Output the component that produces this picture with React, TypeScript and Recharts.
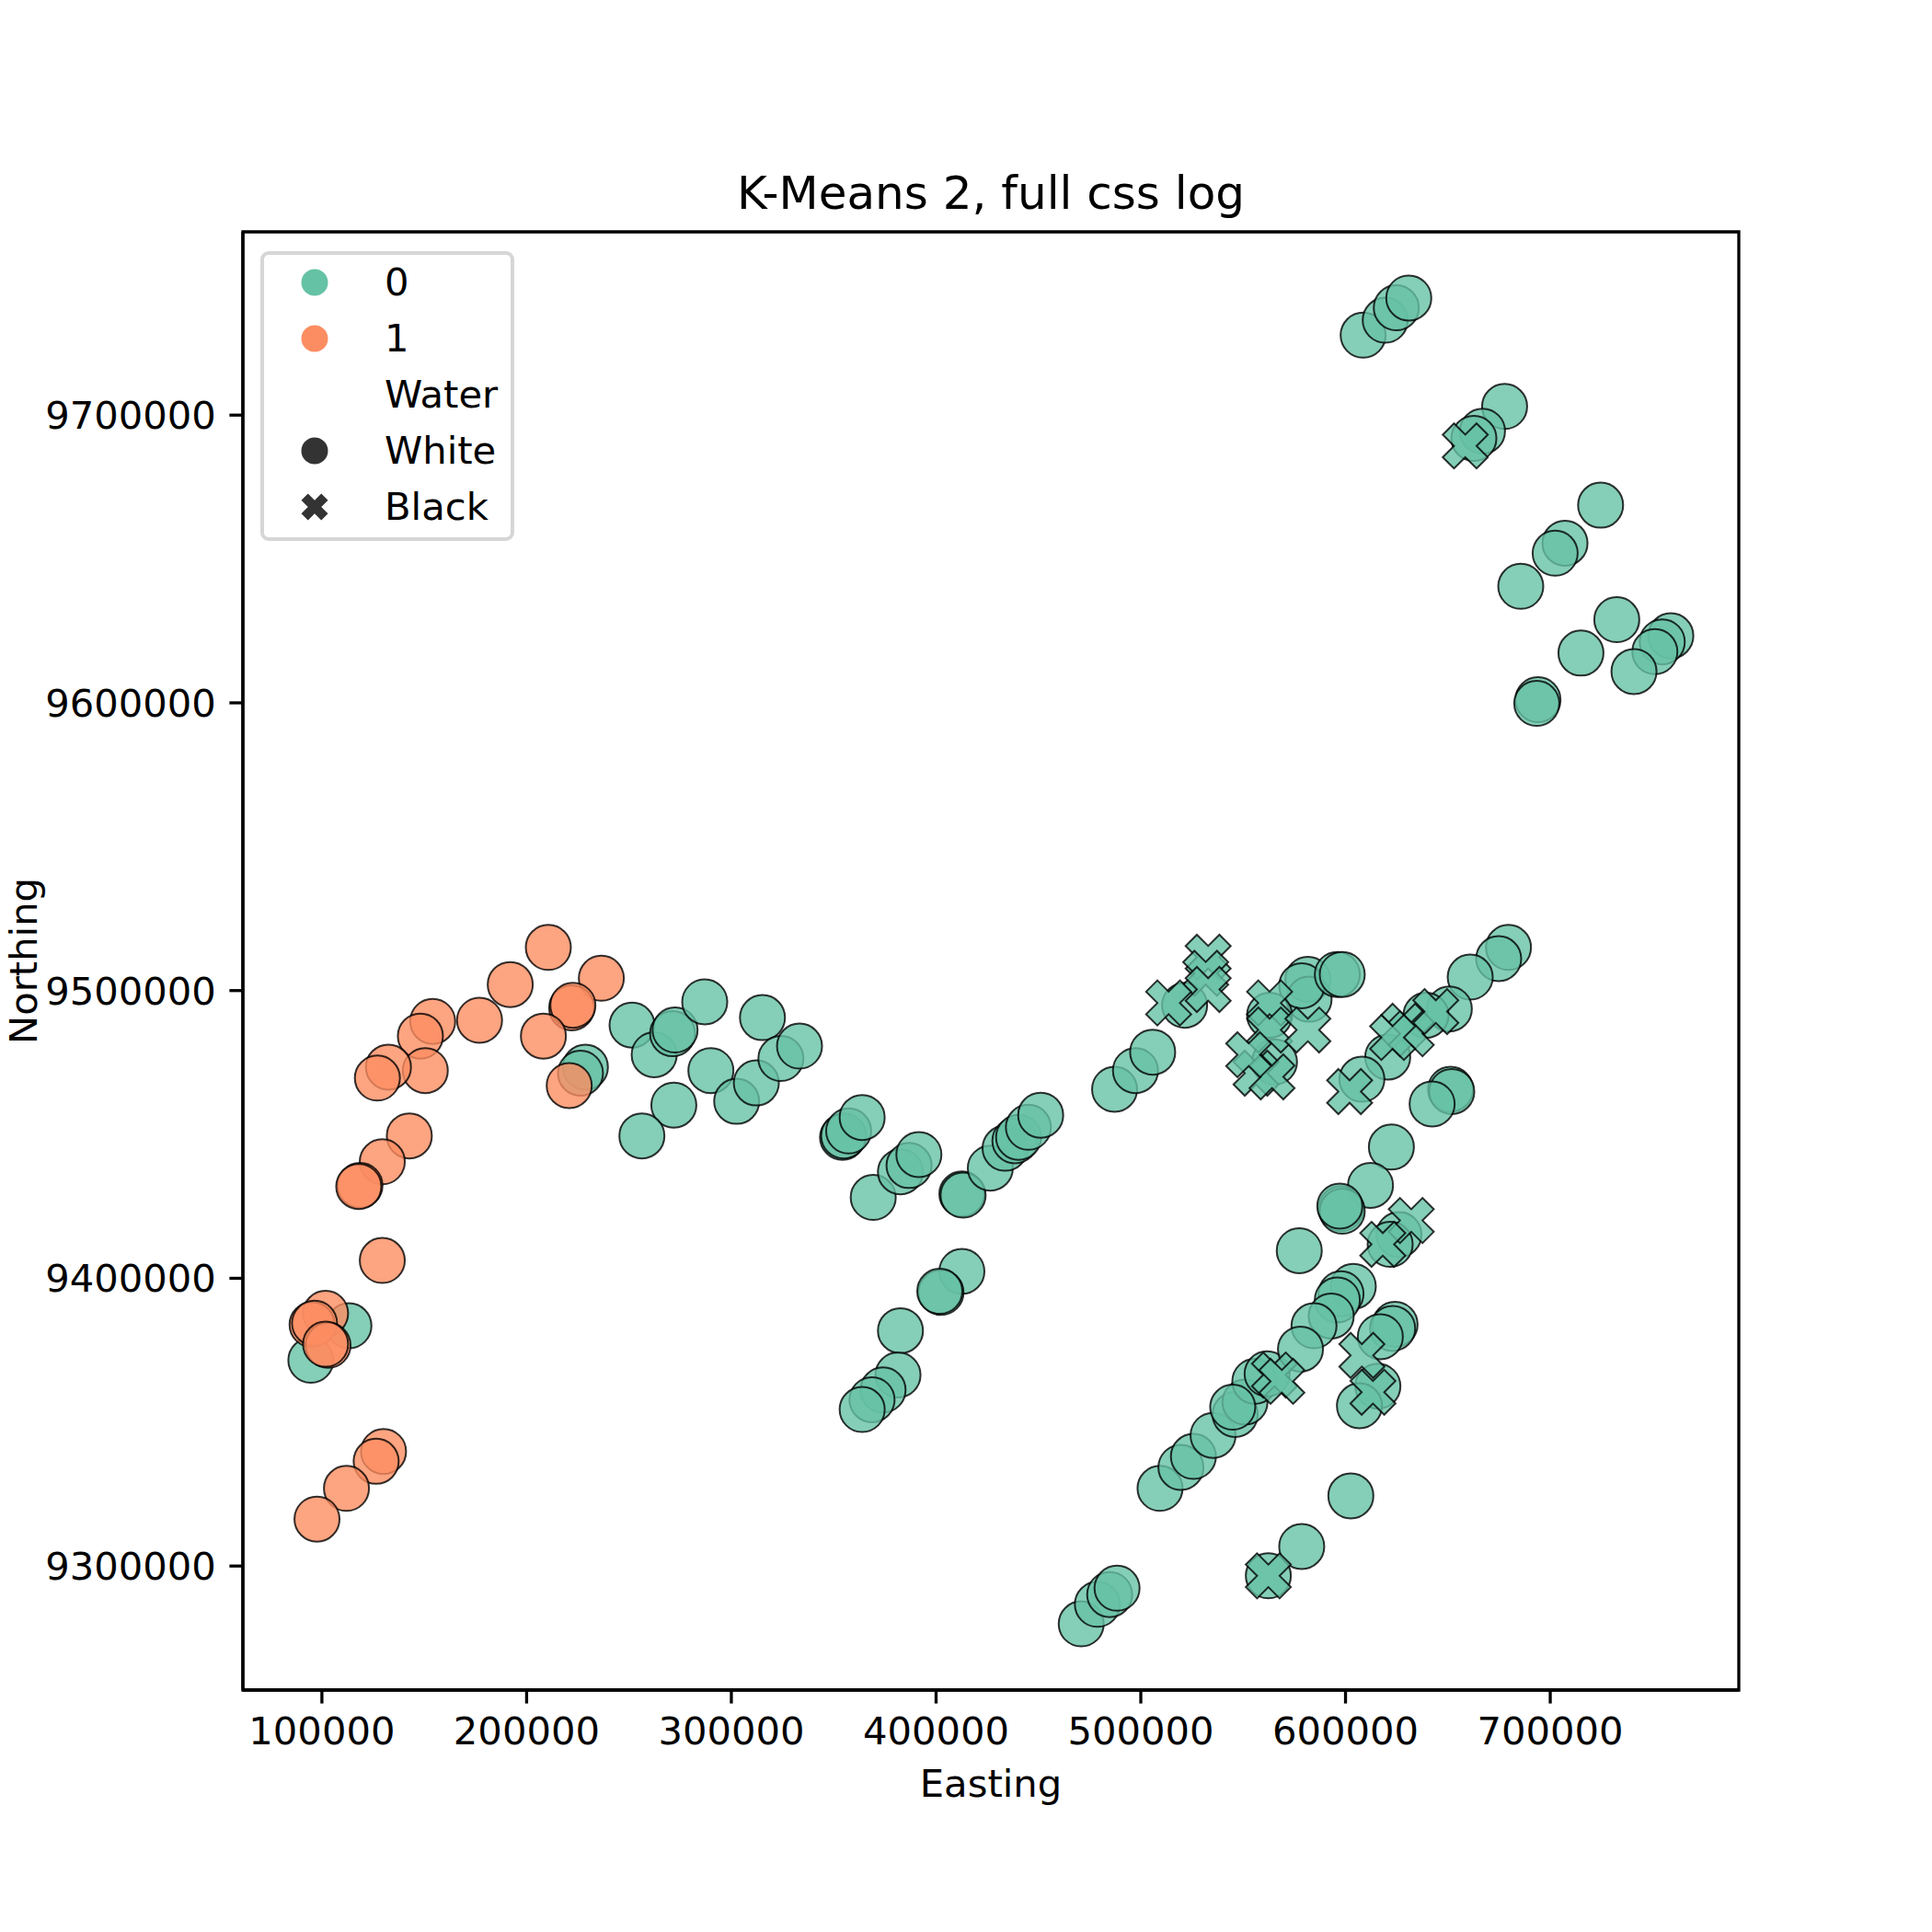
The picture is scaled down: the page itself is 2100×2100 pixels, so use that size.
import { ScatterChart, Scatter, XAxis, YAxis, ReferenceArea, Legend } from "recharts";

const FONT = '"DejaVu Sans", Verdana, sans-serif';
const TEAL = "#66c2a5";
const ORANGE = "#fc8d62";
const DARK = "#333333";

const TITLE = "K-Means 2, full css log";
const X_LABEL = "Easting";
const Y_LABEL = "Northing";

const X_TICKS = [100000, 200000, 300000, 400000, 500000, 600000, 700000];
const Y_TICKS = [9300000, 9400000, 9500000, 9600000, 9700000];
const X_DOMAIN: [number, number] = [61400, 792100];
const Y_DOMAIN: [number, number] = [9256900, 9763700];

const HUE_LABELS = ["0", "1"];
const STYLE_TITLE = "Water";
const STYLE_LABELS = ["White", "Black"];

// cluster 1, water = White  [easting, northing]
const C1_WHITE: [number, number][] = [
  [210600, 9515000], [236500, 9504300], [192000, 9502100], [222000, 9494000], [222600, 9494900],
  [208200, 9484200], [177000, 9489700], [154100, 9489300], [148100, 9484200], [150500, 9472200],
  [132500, 9473400], [127100, 9469600], [220800, 9467000], [142700, 9449500], [129500, 9440500],
  [118600, 9432300], [118000, 9431900], [129500, 9406200], [101800, 9387800], [95200, 9383900],
  [96400, 9384400], [103000, 9376700], [101800, 9377100], [130100, 9339800], [126500, 9336400],
  [112000, 9327000], [97600, 9316300],
];

// cluster 0, water = White
const C0_WHITE: [number, number][] = [
  [113200, 9383500], [94600, 9371500],
  [228700, 9473400], [226300, 9471300], [251500, 9488000], [262300, 9477700], [271300, 9485000],
  [272500, 9486300], [287000, 9496100], [290000, 9472200], [271900, 9460200], [256300, 9449500],
  [315200, 9490600], [302600, 9461500], [312200, 9467900], [324200, 9476400], [333300, 9480700],
  [354300, 9449000], [354900, 9449500], [357300, 9451200], [363900, 9455900], [369300, 9428100],
  [382600, 9437000], [386800, 9439200], [391600, 9443000], [412600, 9429300], [413200, 9428900],
  [426500, 9438300], [433700, 9445200], [438500, 9447800], [440300, 9449000], [445100, 9452500],
  [451100, 9456700],
  [412600, 9402400], [402400, 9395100], [401800, 9395500], [382600, 9381800], [381400, 9366400],
  [374100, 9361200], [368700, 9357800], [363900, 9354400],
  [487200, 9465700], [497400, 9472200], [505800, 9478600], [521400, 9494900], [581600, 9503900],
  [582200, 9497000], [578600, 9501700], [596000, 9505600], [598400, 9505600], [562900, 9491400],
  [565300, 9475200],
  [509400, 9327000], [519600, 9334300], [525700, 9338100], [535300, 9345400], [546100, 9352700],
  [550900, 9357000], [555700, 9364200], [561700, 9366800], [544900, 9355200],
  [470900, 9279900], [478800, 9286700], [484800, 9290100], [488400, 9292300], [562300, 9296600],
  [578600, 9306800], [602600, 9324400],
  [577400, 9409600], [603800, 9397200], [597800, 9394600], [596000, 9392500], [593000, 9386900],
  [584600, 9383500], [578000, 9375400], [624200, 9384000], [623000, 9382600], [617000, 9379700],
  [615800, 9362500], [606800, 9355700],
  [622400, 9445600], [612200, 9432300], [597800, 9424200], [598400, 9423300], [597200, 9425100],
  [626100, 9415200], [621800, 9411800],
  [679600, 9515000], [674800, 9511100], [660900, 9504700], [650700, 9493600], [639300, 9491400],
  [620600, 9476900], [608000, 9469200], [651300, 9465700], [651900, 9464900], [642300, 9460600],
  [608600, 9727800], [619400, 9733000], [624800, 9737300], [630900, 9740700], [677700, 9703000],
  [666900, 9694400], [662700, 9691900], [724600, 9668700], [707200, 9655500], [702400, 9652000],
  [685600, 9640500], [732500, 9628900], [715000, 9617300], [758900, 9623300], [754700, 9621200],
  [751100, 9617800], [740900, 9610900], [694000, 9601100], [693400, 9599800],
];

// cluster 0, water = Black
const C0_BLACK: [number, number][] = [
  [658500, 9689300], [532900, 9511600], [531700, 9506000], [532900, 9500400], [513600, 9495700],
  [562900, 9495700], [562900, 9486300], [581600, 9486300], [556300, 9471300], [564100, 9470000],
  [552700, 9477700], [602000, 9464900], [628500, 9487600], [632100, 9485000], [623000, 9483700],
  [644100, 9492700], [632100, 9420100], [618200, 9411800], [608000, 9373200], [613400, 9360400],
  [565300, 9366400], [568900, 9364200], [562300, 9296600],
];

const toPts = (arr: [number, number][]) => arr.map(([x, y]) => ({ x, y }));

const R = 24.5;
// matplotlib "X" filled marker outline, in quarter units
const X_PTS = [[-1, -2], [0, -1], [1, -2], [2, -1], [1, 0], [2, 1], [1, 2], [0, 1], [-1, 2], [-2, 1], [-1, 0], [-2, -1]];
const xPath = (cx: number, cy: number, size: number) =>
  "M" + X_PTS.map(([a, b]) => `${cx + (a * size) / 4},${cy + (b * size) / 4}`).join("L") + "Z";

const dot = (color: string) => (p: any) => (
  <circle cx={p.cx} cy={p.cy} r={R} fill={color} fillOpacity={0.8} stroke="#000" strokeOpacity={0.8} strokeWidth={2} />
);
const cross = (color: string) => (p: any) => (
  <path d={xPath(p.cx, p.cy, 2 * R)} fill={color} fillOpacity={0.8} stroke="#000" strokeOpacity={0.8} strokeWidth={2} strokeLinejoin="miter" />
);

function LegendBox() {
  const rows = [
    { label: HUE_LABELS[0], marker: <circle cx={20} cy={20} r={14.5} fill={TEAL} /> },
    { label: HUE_LABELS[1], marker: <circle cx={20} cy={20} r={14.5} fill={ORANGE} /> },
    { label: STYLE_TITLE, marker: null },
    { label: STYLE_LABELS[0], marker: <circle cx={20} cy={20} r={14.5} fill={DARK} /> },
    { label: STYLE_LABELS[1], marker: <path d={xPath(20, 20, 29)} fill={DARK} /> },
  ];
  return (
    <div
      style={{
        position: "relative",
        width: 276,
        height: 315,
        boxSizing: "border-box",
        border: "4px solid #d6d6d6",
        borderRadius: 9,
        background: "rgba(255,255,255,0.8)",
        fontFamily: FONT,
        fontSize: 41.7,
        color: "#000",
      }}
    >
      {rows.map((r, i) => (
        <div key={r.label} style={{ position: "absolute", left: 0, top: 33.5 + i * 61 - 20 - 4, height: 40, width: 268 }}>
          {r.marker && (
            <svg width={40} height={40} style={{ position: "absolute", left: 35, top: 0 }}>
              {r.marker}
            </svg>
          )}
          <span style={{ position: "absolute", left: 131, top: 0, lineHeight: "40px", whiteSpace: "nowrap" }}>{r.label}</span>
        </div>
      ))}
    </div>
  );
}

export default function App() {
  const tickStyle = { fill: "#000", fontSize: 41.7, fontFamily: FONT };
  return (
    <div style={{ position: "absolute", left: 0, top: 0, width: 2100, height: 2100, background: "#fff" }}>
      <div
        style={{
          position: "absolute",
          left: 264,
          width: 1626,
          top: 185,
          lineHeight: "50px",
          fontSize: 50,
          fontFamily: FONT,
          textAlign: "center",
          color: "#000",
          zIndex: 2,
        }}
      >
        {TITLE}
      </div>
      <ScatterChart width={2100} height={2100} margin={{ top: 252, right: 210, bottom: 113, left: 0 }}>
        <XAxis
          type="number"
          dataKey="x"
          domain={X_DOMAIN}
          ticks={X_TICKS}
          allowDataOverflow
          height={150}
          tickSize={14.6}
          tickMargin={14.6}
          tick={tickStyle}
          axisLine={{ stroke: "#000", strokeWidth: 3.3 }}
          tickLine={{ stroke: "#000", strokeWidth: 3.3 }}
          label={{ value: X_LABEL, position: "insideBottom", offset: 34, fill: "#000", fontSize: 41.7, fontFamily: FONT }}
        />
        <YAxis
          type="number"
          dataKey="y"
          domain={Y_DOMAIN}
          ticks={Y_TICKS}
          allowDataOverflow
          width={264}
          tickSize={14.6}
          tickMargin={14.6}
          tick={tickStyle}
          axisLine={{ stroke: "#000", strokeWidth: 3.3 }}
          tickLine={{ stroke: "#000", strokeWidth: 3.3 }}
          label={{
            value: Y_LABEL,
            position: "insideLeft",
            angle: -90,
            offset: 25,
            fill: "#000",
            fontSize: 41.7,
            fontFamily: FONT,
            style: { textAnchor: "middle" },
          }}
        />
        <Scatter data={toPts(C0_WHITE)} shape={dot(TEAL)} isAnimationActive={false} />
        <Scatter data={toPts(C0_BLACK)} shape={cross(TEAL)} isAnimationActive={false} />
        <Scatter data={toPts(C1_WHITE)} shape={dot(ORANGE)} isAnimationActive={false} />
        <ReferenceArea
          x1={X_DOMAIN[0]}
          x2={X_DOMAIN[1]}
          y1={Y_DOMAIN[0]}
          y2={Y_DOMAIN[1]}
          fill="none"
          fillOpacity={0}
          stroke="#000"
          strokeWidth={3.3}
          ifOverflow="visible"
        />
        <Legend
          layout="horizontal"
          verticalAlign="middle"
          align="center"
          content={() => <LegendBox />}
          wrapperStyle={{ position: "absolute", left: 283, top: 273, width: 276, height: 315 }}
        />
      </ScatterChart>
    </div>
  );
}
